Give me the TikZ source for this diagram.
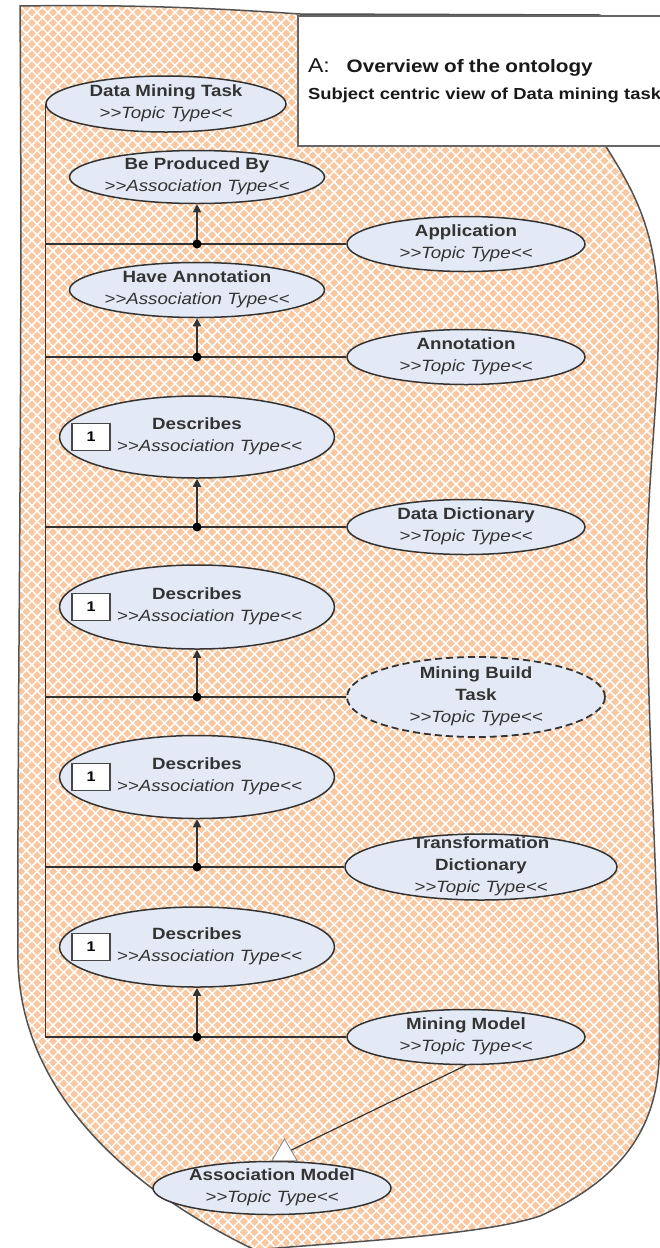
\documentclass[tikz,border=0pt]{standalone}
\usepackage{fontspec}
\setmainfont[FakeStretch=1.15]{Liberation Sans}
\usetikzlibrary{arrows.meta,shapes.geometric,patterns.meta}
\definecolor{blobfill}{HTML}{F9C8A0}
\definecolor{ovalfill}{HTML}{E4EAF5}
\definecolor{inkgray}{HTML}{333333}
\newcommand{\stereo}[1]{\textit{>\kern0pt>#1<\kern0pt<}}
\newcommand{\ovaltext}[1]{\makebox[0pt]{\smash{\raisebox{-3.5pt}{\begin{tabular}{@{}c@{}}#1\end{tabular}}}}}

\begin{document}
\begin{tikzpicture}[x=1pt, y=-1pt, >={Triangle[length=8pt,width=8pt]},
    link/.style={draw=inkgray, line width=1.5pt},
    topic/.style={ellipse, draw=inkgray, line width=1.5pt, fill=ovalfill, inner sep=0pt,
      minimum width=238pt, minimum height=55pt, text=inkgray, font=\fontsize{16.3}{22}\selectfont},
    assoc/.style={topic, minimum width=255pt, minimum height=53pt},
    descr/.style={topic, minimum width=275pt, minimum height=82pt},
    onebox/.style={draw=inkgray!90, line width=1.6pt, fill=white, minimum width=38pt,
      minimum height=27pt, inner sep=0pt, text=black, font=\bfseries\fontsize{14}{16}\selectfont},
    gen/.style={regular polygon, regular polygon sides=3, draw=inkgray!60, line width=0.8pt,
      fill=white, minimum size=29pt, inner sep=0pt},
    titlebox/.style={draw=black!60, line width=2pt, fill=white, minimum width=380pt,
      minimum height=130pt, text width=360pt, align=left, inner xsep=3pt, text=black!90,
      font=\fontsize{16}{27}\selectfont}]
\useasboundingbox (0,0) rectangle (660,1248);
% background shape
\path[fill=blobfill,
    postaction={pattern={Hatch[angle=45,distance=7.5pt,line width=1.5pt]}, pattern color=white},
    postaction={draw=inkgray!85, line width=1.5pt}]
  (20,6) .. controls (150,4) and (240,10) .. (300,14) -- (600,15) -- (605,145)
  .. controls (630,185) and (655,225) .. (658,300)
  .. controls (661,400) and (645,480) .. (647,600)
  .. controls (649,780) and (662,950) .. (659,1060)
  .. controls (656,1130) and (620,1180) .. (540,1216)
  .. controls (480,1236) and (340,1242) .. (255,1250)
  .. controls (110,1180) and (20,1080) .. (18,960)
  .. controls (17,700) and (23,400) .. (20,6) -- cycle;
% title
\node[titlebox, anchor=north west] (title) at (297,15)
  {{\fontsize{20}{24}\selectfont A:}\hspace{17pt}\textbf{\fontsize{18}{27}\selectfont Overview of the ontology}\\
   \textbf{Subject centric view of Data mining task}};
% topic types
\node[topic, minimum width=240pt, minimum height=56pt] (dmt) at (166,104) {\ovaltext{\textbf{Data Mining Task}\\\stereo{Topic Type}}};
\node[topic] (app) at (466,244) {\ovaltext{\textbf{Application}\\\stereo{Topic Type}}};
\node[topic] (ann) at (466,357) {\ovaltext{\textbf{Annotation}\\\stereo{Topic Type}}};
\node[topic] (dd) at (466,527) {\ovaltext{\textbf{Data Dictionary}\\\stereo{Topic Type}}};
\node[topic, dash pattern=on 7pt off 4pt, line width=1.8pt, minimum width=258pt, minimum height=80pt] (mbt) at (476,697)
  {\ovaltext{\textbf{Mining Build}\\\textbf{Task}\\\stereo{Topic Type}}};
\node[topic, minimum width=272pt, minimum height=66pt] (td) at (481,867)
  {\ovaltext{\textbf{Transformation}\\\textbf{Dictionary}\\\stereo{Topic Type}}};
\node[topic] (mm) at (466,1037) {\ovaltext{\textbf{Mining Model}\\\stereo{Topic Type}}};
\node[topic, minimum height=53pt] (am) at (272,1188) {\ovaltext{\textbf{Association Model}\\\stereo{Topic Type}}};
% association types
\node[assoc] (bpb) at (197,177) {\ovaltext{\textbf{Be Produced By}\\\stereo{Association Type}}};
\node[assoc, minimum height=55pt] (ha) at (197,290) {\ovaltext{\textbf{Have Annotation}\\\stereo{Association Type}}};
\node[descr] (d1) at (197,437) {\ovaltext{\textbf{Describes}\\\hspace*{25pt}\stereo{Association Type}}};
\node[descr, minimum height=84pt] (d2) at (197,607) {\ovaltext{\textbf{Describes}\\\hspace*{25pt}\stereo{Association Type}}};
\node[descr, minimum height=83pt] (d3) at (197,777) {\ovaltext{\textbf{Describes}\\\hspace*{25pt}\stereo{Association Type}}};
\node[descr, minimum height=80pt] (d4) at (197,947) {\ovaltext{\textbf{Describes}\\\hspace*{25pt}\stereo{Association Type}}};
\node[onebox] (c1) at ([xshift=-106pt]d1.center) {1};
\node[onebox] (c2) at ([xshift=-106pt]d2.center) {1};
\node[onebox] (c3) at ([xshift=-106pt]d3.center) {1};
\node[onebox] (c4) at ([xshift=-106pt]d4.center) {1};
% trunk and rows
\draw[link] (dmt.west) -- (dmt.west |- mm.west);
\foreach \a/\t in {bpb/app, ha/ann, d1/dd, d2/mbt, d3/td, d4/mm} {
  \draw[link] (dmt.west |- \t.west) -- (\t.west);
  \draw[link, ->] (\a.south |- \t.west) -- (\a.south);
  \fill[black] (\a.south |- \t.west) circle (4.5pt);
}
% generalisation
\node[gen] (tri) at (284.5,1153.4) {};
\draw[link, line width=1.2pt] (mm.south) -- (tri);
\end{tikzpicture}
\end{document}
